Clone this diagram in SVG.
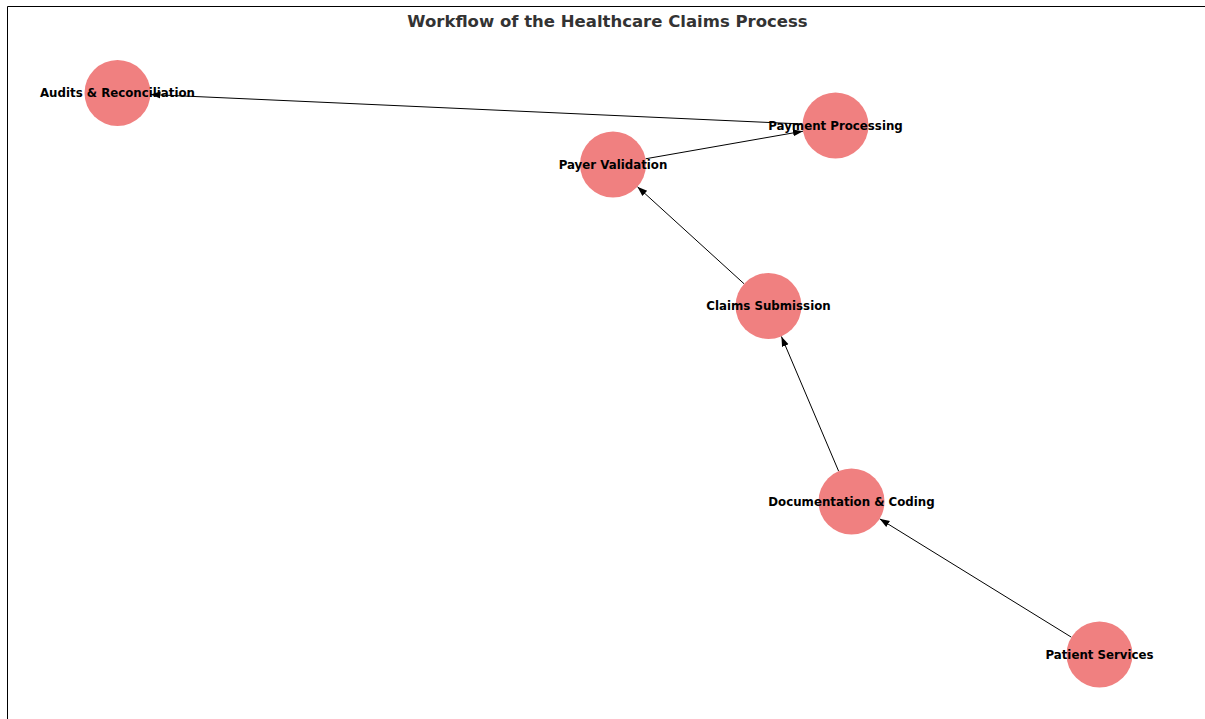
<svg xmlns="http://www.w3.org/2000/svg" width="1205" height="719" viewBox="0 0 1205 719">
  <style>
    .node circle { fill: #F08080; }
    .label { font-family: "DejaVu Sans", "Liberation Sans", sans-serif; font-weight: bold; font-size: 11.8px; fill: #000; text-anchor: middle; dominant-baseline: central; }
    .title { font-family: "DejaVu Sans", "Liberation Sans", sans-serif; font-weight: bold; font-size: 16.5px; fill: #333; text-anchor: middle; }
    .edge { stroke: #000; stroke-width: 1; fill: none; marker-end: url(#arrow); }
    .frame { stroke: #000; stroke-width: 1; fill: none; }
  </style>
  <defs>
    <marker id="arrow" markerUnits="userSpaceOnUse" markerWidth="12" markerHeight="10" refX="10" refY="5" orient="auto">
      <path d="M0,1.5 L10,5 L0,8.5 z" fill="#000"/>
    </marker>
  </defs>
  <rect x="0" y="0" width="1205" height="719" fill="#fff"/>
  <path class="frame" d="M7.5,719 L7.5,6.5 L1205,6.5"/>
  <text class="title" x="607.5" y="27">Workflow of the Healthcare Claims Process</text>
  <g id="connectors">
    <line class="edge" x1="1071.4" y1="637.2" x2="879.6" y2="518.8"/>
    <line class="edge" x1="838.6" y1="471.1" x2="781.4" y2="336.4"/>
    <line class="edge" x1="744.1" y1="283.8" x2="637.4" y2="186.7"/>
    <line class="edge" x1="645.5" y1="158.8" x2="803" y2="131.2"/>
    <line class="edge" x1="802.5" y1="124" x2="150.5" y2="94.5"/>
  </g>
  <g id="node-audits" class="node">
    <circle cx="117.5" cy="93" r="33"/>
    <text class="label" x="117.5" y="93">Audits &amp; Reconciliation</text>
  </g>
  <g id="node-payment" class="node">
    <circle cx="835.5" cy="125.5" r="33"/>
    <text class="label" x="835.5" y="125.5">Payment Processing</text>
  </g>
  <g id="node-payer" class="node">
    <circle cx="613" cy="164.5" r="33"/>
    <text class="label" x="613" y="164.5">Payer Validation</text>
  </g>
  <g id="node-claims" class="node">
    <circle cx="768.5" cy="306" r="33"/>
    <text class="label" x="768.5" y="306">Claims Submission</text>
  </g>
  <g id="node-documentation" class="node">
    <circle cx="851.5" cy="501.5" r="33"/>
    <text class="label" x="851.5" y="501.5">Documentation &amp; Coding</text>
  </g>
  <g id="node-patient" class="node">
    <circle cx="1099.5" cy="654.5" r="33"/>
    <text class="label" x="1099.5" y="654.5">Patient Services</text>
  </g>
</svg>
